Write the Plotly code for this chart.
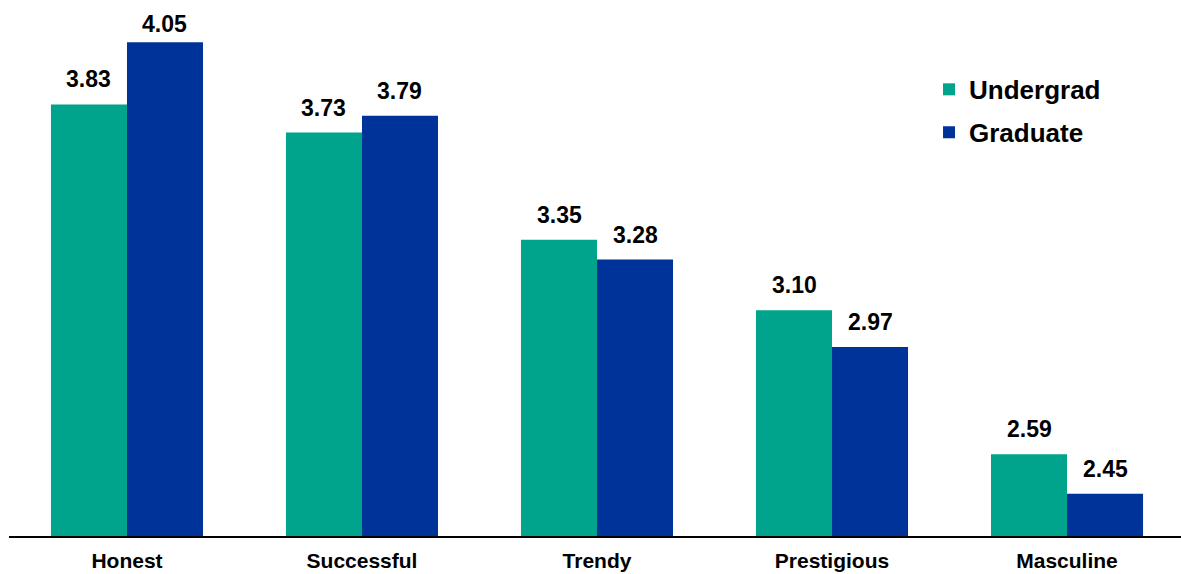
import plotly.graph_objects as go

categories = ["Honest", "Successful", "Trendy", "Prestigious", "Masculine"]
undergrad = [3.83, 3.73, 3.35, 3.10, 2.59]
graduate = [4.05, 3.79, 3.28, 2.97, 2.45]
series_names = ["Undergrad", "Graduate"]

TEAL = "#00A38B"
NAVY = "#003399"
FONT = "Liberation Sans, Arial, sans-serif"
BAR_PX = 76  # rendered width of one bar, used to centre the value labels
Y_RANGE = [2.3, 4.2]

fig = go.Figure()
for name, vals, color, leg in [
    (series_names[0], undergrad, TEAL, "legend"),
    (series_names[1], graduate, NAVY, "legend2"),
]:
    fig.add_trace(go.Bar(
        name=f"<b>{name}</b>", x=categories, y=vals,
        marker=dict(color=color, line=dict(width=0)),
        legend=leg, showlegend=True,
    ))

# value labels above each bar; the tallest one is tucked in so it stays on the page
top_val = max(undergrad + graduate)
annotations = []
for vals, shift in [(undergrad, -BAR_PX / 2), (graduate, BAR_PX / 2)]:
    for cat, v in zip(categories, vals):
        annotations.append(dict(
            x=cat, y=v, xref="x", yref="y",
            text=f"<b>{v:.2f}</b>", showarrow=False,
            xshift=shift, yshift=3 if v == top_val else 10, yanchor="bottom",
            font=dict(family=FONT, size=23, color="black"),
        ))

legend_style = dict(
    x=0.785, xanchor="left", yanchor="top",
    font=dict(family=FONT, size=26, color="black"),
    bgcolor="rgba(0,0,0,0)", itemwidth=30, visible=True,
)

fig.update_layout(
    width=1181, height=574,
    margin=dict(l=9, r=0, t=0, b=38),
    paper_bgcolor="white", plot_bgcolor="white",
    barmode="group", bargap=0.353, bargroupgap=0,
    font=dict(family=FONT, color="black"),
    annotations=annotations,
    showlegend=True,
    legend=dict(y=0.877, **legend_style),
    legend2=dict(y=0.797, **legend_style),
    xaxis=dict(
        range=[-0.502, 4.485],
        showline=True, linecolor="black", linewidth=2,
        ticks="", showgrid=False, ticklabelstandoff=5,
        tickprefix="<b>", ticksuffix="</b>",
        tickfont=dict(family=FONT, size=21, color="black"),
    ),
    yaxis=dict(
        range=Y_RANGE, visible=False, showgrid=False, zeroline=False,
    ),
)

fig.write_html("out.html")
